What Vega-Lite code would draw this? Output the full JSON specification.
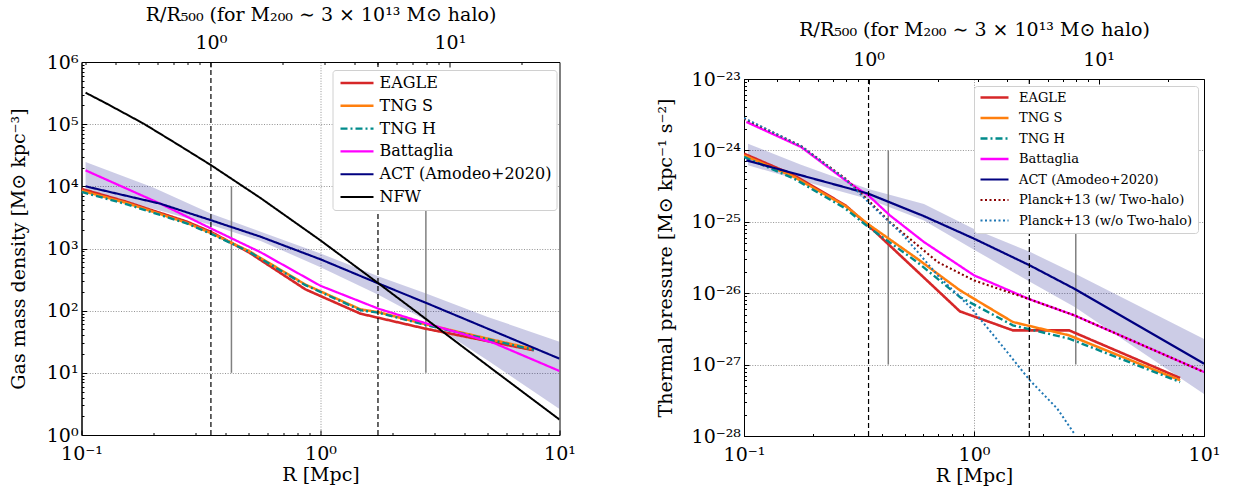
{
"$schema": "https://vega.github.io/schema/vega-lite/v6.json",
"padding": {"left": 8.5, "top": 5, "right": 0, "bottom": 0},
"config": {
  "font": "DejaVu Serif",
  "view": {"stroke": "black", "strokeWidth": 1},
  "axis": {"labelFont": "DejaVu Serif", "titleFont": "DejaVu Serif", "labelFontSize": 19, "titleFontSize": 19, "titleFontWeight": "normal", "labelColor": "black", "titleColor": "black", "domainColor": "black", "tickColor": "black", "gridColor": "#777777", "gridDash": [1, 1.6], "gridWidth": 0.8, "labelOverlap": false, "labelFlush": false},
  "legend": {"fillColor": "white", "strokeColor": "#d0d0d0", "cornerRadius": 3, "labelFont": "DejaVu Serif", "labelColor": "black", "symbolStrokeWidth": 2.5, "labelLimit": 0}
},
"datasets": {
  "leftLines": [
    {"series": "EAGLE", "R": 0.1, "v": 9120}, {"series": "EAGLE", "R": 0.155, "v": 5600}, {"series": "EAGLE", "R": 0.277, "v": 2690}, {"series": "EAGLE", "R": 0.349, "v": 1840}, {"series": "EAGLE", "R": 0.501, "v": 870}, {"series": "EAGLE", "R": 0.865, "v": 220}, {"series": "EAGLE", "R": 1.469, "v": 89.5}, {"series": "EAGLE", "R": 2.75, "v": 51.3}, {"series": "EAGLE", "R": 7.82, "v": 23},
    {"series": "TNG S", "R": 0.1, "v": 8510}, {"series": "TNG S", "R": 0.155, "v": 5370}, {"series": "TNG S", "R": 0.277, "v": 2570}, {"series": "TNG S", "R": 0.349, "v": 1760}, {"series": "TNG S", "R": 0.501, "v": 912}, {"series": "TNG S", "R": 0.865, "v": 263}, {"series": "TNG S", "R": 1.469, "v": 105}, {"series": "TNG S", "R": 1.754, "v": 94.4}, {"series": "TNG S", "R": 2.75, "v": 60.3}, {"series": "TNG S", "R": 7.82, "v": 24},
    {"series": "TNG H", "R": 0.1, "v": 8130}, {"series": "TNG H", "R": 0.155, "v": 5130}, {"series": "TNG H", "R": 0.277, "v": 2510}, {"series": "TNG H", "R": 0.349, "v": 1720}, {"series": "TNG H", "R": 0.501, "v": 891}, {"series": "TNG H", "R": 0.865, "v": 257}, {"series": "TNG H", "R": 1.469, "v": 102}, {"series": "TNG H", "R": 1.754, "v": 92.3}, {"series": "TNG H", "R": 2.75, "v": 58.9}, {"series": "TNG H", "R": 7.82, "v": 23.4},
    {"series": "Battaglia", "R": 0.104, "v": 18070}, {"series": "Battaglia", "R": 0.214, "v": 5250}, {"series": "Battaglia", "R": 0.349, "v": 2090}, {"series": "Battaglia", "R": 0.561, "v": 871}, {"series": "Battaglia", "R": 1.0, "v": 251}, {"series": "Battaglia", "R": 1.754, "v": 107}, {"series": "Battaglia", "R": 2.75, "v": 63}, {"series": "Battaglia", "R": 5.31, "v": 30.2}, {"series": "Battaglia", "R": 10, "v": 10.7},
    {"series": "ACT (Amodeo+2020)", "R": 0.104, "v": 10000}, {"series": "ACT (Amodeo+2020)", "R": 0.214, "v": 5250}, {"series": "ACT (Amodeo+2020)", "R": 0.349, "v": 2840}, {"series": "ACT (Amodeo+2020)", "R": 0.561, "v": 1549}, {"series": "ACT (Amodeo+2020)", "R": 1.0, "v": 670}, {"series": "ACT (Amodeo+2020)", "R": 1.754, "v": 272}, {"series": "ACT (Amodeo+2020)", "R": 2.75, "v": 134.6}, {"series": "ACT (Amodeo+2020)", "R": 10, "v": 16.9},
    {"series": "NFW", "R": 0.104, "v": 321000}, {"series": "NFW", "R": 0.126, "v": 219000}, {"series": "NFW", "R": 0.182, "v": 101900}, {"series": "NFW", "R": 0.251, "v": 47900}, {"series": "NFW", "R": 0.349, "v": 21800}, {"series": "NFW", "R": 0.562, "v": 6457}, {"series": "NFW", "R": 1.0, "v": 1349}, {"series": "NFW", "R": 1.754, "v": 272}, {"series": "NFW", "R": 2.75, "v": 74.3}, {"series": "NFW", "R": 5.31, "v": 11.0}, {"series": "NFW", "R": 10, "v": 1.77}
  ],
  "leftBand": [
    {"R": 0.104, "lo": 8318, "hi": 24547}, {"R": 0.1995, "lo": 4365, "hi": 9550}, {"R": 0.349, "lo": 2399, "hi": 3631}, {"R": 0.562, "lo": 1318, "hi": 1862}, {"R": 1.0, "lo": 501, "hi": 832}, {"R": 1.754, "lo": 178, "hi": 355}, {"R": 2.75, "lo": 70.8, "hi": 190.5}, {"R": 5.01, "lo": 15.8, "hi": 79.4}, {"R": 10, "lo": 2.63, "hi": 31.6}
  ],
  "leftGray": [{"R": 0.424, "a": 10, "b": 10000}, {"R": 2.76, "a": 10, "b": 10000}],
  "rightGray": [{"R": 0.424, "a": 1e-27, "b": 1e-24}, {"R": 2.77, "a": 1e-27, "b": 1e-24}],
  "dashed": [{"ratio": 1}, {"ratio": 5}],
  "rightLines": [
    {"series": "EAGLE", "R": 0.1, "v": 9.0e-25}, {"series": "EAGLE", "R": 0.1652, "v": 4.48e-25}, {"series": "EAGLE", "R": 0.2761, "v": 1.70e-25}, {"series": "EAGLE", "R": 0.347, "v": 8.91e-26}, {"series": "EAGLE", "R": 0.868, "v": 5.57e-27}, {"series": "EAGLE", "R": 1.475, "v": 3.02e-27}, {"series": "EAGLE", "R": 2.591, "v": 3.02e-27}, {"series": "EAGLE", "R": 7.87, "v": 6.49e-28},
    {"series": "TNG S", "R": 0.1, "v": 8.53e-25}, {"series": "TNG S", "R": 0.1652, "v": 4.25e-25}, {"series": "TNG S", "R": 0.2761, "v": 1.66e-25}, {"series": "TNG S", "R": 0.347, "v": 9.23e-26}, {"series": "TNG S", "R": 0.566, "v": 3.05e-26}, {"series": "TNG S", "R": 0.868, "v": 1.10e-26}, {"series": "TNG S", "R": 1.475, "v": 3.95e-27}, {"series": "TNG S", "R": 2.591, "v": 2.57e-27}, {"series": "TNG S", "R": 7.87, "v": 6.03e-28},
    {"series": "TNG H", "R": 0.1, "v": 8.09e-25}, {"series": "TNG H", "R": 0.1652, "v": 4.02e-25}, {"series": "TNG H", "R": 0.2761, "v": 1.53e-25}, {"series": "TNG H", "R": 0.347, "v": 8.45e-26}, {"series": "TNG H", "R": 0.566, "v": 2.73e-26}, {"series": "TNG H", "R": 0.868, "v": 8.85e-27}, {"series": "TNG H", "R": 1.475, "v": 3.55e-27}, {"series": "TNG H", "R": 2.591, "v": 2.31e-27}, {"series": "TNG H", "R": 7.87, "v": 5.70e-28},
    {"series": "Battaglia", "R": 0.1024, "v": 2.50e-24}, {"series": "Battaglia", "R": 0.177, "v": 1.117e-24}, {"series": "Battaglia", "R": 0.2761, "v": 3.81e-25}, {"series": "Battaglia", "R": 0.347, "v": 2.35e-25}, {"series": "Battaglia", "R": 0.4305, "v": 1.233e-25}, {"series": "Battaglia", "R": 0.606, "v": 5.21e-26}, {"series": "Battaglia", "R": 1.0, "v": 1.78e-26}, {"series": "Battaglia", "R": 1.749, "v": 8.20e-27}, {"series": "Battaglia", "R": 2.729, "v": 4.90e-27}, {"series": "Battaglia", "R": 10, "v": 7.87e-28},
    {"series": "ACT (Amodeo+2020)", "R": 0.1024, "v": 7.26e-25}, {"series": "ACT (Amodeo+2020)", "R": 0.177, "v": 4.48e-25}, {"series": "ACT (Amodeo+2020)", "R": 0.347, "v": 2.48e-25}, {"series": "ACT (Amodeo+2020)", "R": 0.606, "v": 1.20e-25}, {"series": "ACT (Amodeo+2020)", "R": 1.0, "v": 5.81e-26}, {"series": "ACT (Amodeo+2020)", "R": 1.749, "v": 2.45e-26}, {"series": "ACT (Amodeo+2020)", "R": 2.729, "v": 1.156e-26}, {"series": "ACT (Amodeo+2020)", "R": 10, "v": 1.03e-27},
    {"series": "Planck+13 (w/ Two-halo)", "R": 0.1, "v": 2.78e-24}, {"series": "Planck+13 (w/ Two-halo)", "R": 0.177, "v": 1.153e-24}, {"series": "Planck+13 (w/ Two-halo)", "R": 0.2761, "v": 4.02e-25}, {"series": "Planck+13 (w/ Two-halo)", "R": 0.347, "v": 2.0e-25}, {"series": "Planck+13 (w/ Two-halo)", "R": 0.4305, "v": 9.93e-26}, {"series": "Planck+13 (w/ Two-halo)", "R": 0.695, "v": 2.73e-26}, {"series": "Planck+13 (w/ Two-halo)", "R": 1.0, "v": 1.51e-26}, {"series": "Planck+13 (w/ Two-halo)", "R": 1.749, "v": 8.20e-27}, {"series": "Planck+13 (w/ Two-halo)", "R": 2.729, "v": 4.9e-27}, {"series": "Planck+13 (w/ Two-halo)", "R": 10, "v": 7.87e-28},
    {"series": "Planck+13 (w/o Two-halo)", "R": 0.1, "v": 2.84e-24}, {"series": "Planck+13 (w/o Two-halo)", "R": 0.177, "v": 1.153e-24}, {"series": "Planck+13 (w/o Two-halo)", "R": 0.2761, "v": 3.94e-25}, {"series": "Planck+13 (w/o Two-halo)", "R": 0.347, "v": 1.89e-25}, {"series": "Planck+13 (w/o Two-halo)", "R": 0.4934, "v": 6.46e-26}, {"series": "Planck+13 (w/o Two-halo)", "R": 0.695, "v": 1.78e-26}, {"series": "Planck+13 (w/o Two-halo)", "R": 0.978, "v": 6.07e-27}, {"series": "Planck+13 (w/o Two-halo)", "R": 1.285, "v": 2.07e-27}, {"series": "Planck+13 (w/o Two-halo)", "R": 1.749, "v": 6.03e-28}, {"series": "Planck+13 (w/o Two-halo)", "R": 2.301, "v": 2.42e-28}, {"series": "Planck+13 (w/o Two-halo)", "R": 2.729, "v": 1.08e-28}
  ],
  "rightBand": [
    {"R": 0.1041, "lo": 6.17e-25, "hi": 1.242e-24}, {"R": 0.177, "lo": 3.80e-25, "hi": 6.31e-25}, {"R": 0.347, "lo": 2.09e-25, "hi": 2.88e-25}, {"R": 0.606, "lo": 1.047e-25, "hi": 1.78e-25}, {"R": 1.0, "lo": 4.07e-26, "hi": 7.94e-26}, {"R": 1.749, "lo": 1.445e-26, "hi": 3.80e-26}, {"R": 2.729, "lo": 6.46e-27, "hi": 1.905e-26}, {"R": 10, "lo": 3.89e-28, "hi": 2.29e-27}
  ]
},
"hconcat": [
  {
    "width": 478, "height": 373,
    "layer": [
      {
        "layer": [
          {"data": {"name": "leftBand"}, "mark": {"type": "area", "color": "#000080", "opacity": 0.2, "clip": true},
           "encoding": {"x": {"field": "R", "type": "quantitative"}, "y": {"field": "lo", "type": "quantitative"}, "y2": {"field": "hi"}}},
          {"data": {"name": "leftGray"}, "mark": {"type": "rule", "color": "#808080", "strokeWidth": 1.5},
           "encoding": {"x": {"field": "R", "type": "quantitative"}, "y": {"field": "a", "type": "quantitative"}, "y2": {"field": "b"}}},
          {"data": {"name": "leftLines"}, "mark": {"type": "line", "clip": true},
           "encoding": {
             "x": {"field": "R", "type": "quantitative"},
             "y": {"field": "v", "type": "quantitative"},
             "color": {"field": "series", "type": "nominal", "scale": {"domain": ["EAGLE", "TNG S", "TNG H", "Battaglia", "ACT (Amodeo+2020)", "NFW"], "range": ["#d62728", "#ff7f0e", "#008b8b", "#ff00ff", "#000080", "#000000"]},
               "legend": {"title": null, "orient": "none", "legendX": 251, "legendY": 8, "padding": 5, "labelFontSize": 16, "symbolType": "M-1,0H5.6", "symbolSize": 100, "labelOffset": 26, "rowPadding": 6.8}},
             "strokeDash": {"field": "series", "type": "nominal", "scale": {"domain": ["EAGLE", "TNG S", "TNG H", "Battaglia", "ACT (Amodeo+2020)", "NFW"], "range": [[1, 0], [1, 0], [7, 3, 2, 3], [1, 0], [1, 0], [1, 0]]},
               "legend": {"title": null, "orient": "none", "legendX": 251, "legendY": 8, "padding": 5, "labelFontSize": 16, "symbolType": "M-1,0H5.6", "symbolSize": 100, "labelOffset": 26, "rowPadding": 6.8}},
             "strokeWidth": {"field": "series", "type": "nominal", "scale": {"domain": ["EAGLE", "TNG S", "TNG H", "Battaglia", "ACT (Amodeo+2020)", "NFW"], "range": [2.6, 2, 2.2, 2.2, 2.4, 1.4]}, "legend": null}
           }}
        ],
        "encoding": {
          "x": {"field": "R", "type": "quantitative", "scale": {"type": "log", "domain": [0.1, 10], "nice": false},
            "axis": {"title": ["R [Mpc]", ""], "titleLineHeight": 18, "values": [0.1, 0.2, 0.3, 0.4, 0.5, 0.6, 0.7, 0.8, 0.9, 1, 2, 3, 4, 5, 6, 7, 8, 9, 10],
              "labelExpr": "datum.value==0.1?'10⁻¹':datum.value==1?'10⁰':datum.value==10?'10¹':''",
              "tickSize": {"condition": {"test": "datum.value==0.1||datum.value==1||datum.value==10", "value": -5}, "value": -2.5},
              "labelPadding": 14, "titlePadding": 0,
              "grid": true, "gridOpacity": {"condition": {"test": "datum.value==1", "value": 1}, "value": 0}}},
          "y": {"field": "v", "type": "quantitative", "scale": {"type": "log", "domain": [1, 1000000], "nice": false},
            "axis": {"title": "Gas mass density [M⊙ kpc⁻³]", "values": [1, 2, 3, 4, 5, 6, 7, 8, 9, 10, 20, 30, 40, 50, 60, 70, 80, 90, 100, 200, 300, 400, 500, 600, 700, 800, 900, 1000, 2000, 3000, 4000, 5000, 6000, 7000, 8000, 9000, 10000, 20000, 30000, 40000, 50000, 60000, 70000, 80000, 90000, 100000, 200000, 300000, 400000, 500000, 600000, 700000, 800000, 900000, 1000000],
              "labelExpr": "['10⁰','10¹','10²','10³','10⁴','10⁵','10⁶'][indexof([1,10,100,1000,10000,100000,1000000],datum.value)] || ''",
              "tickSize": {"condition": {"test": "indexof([1,10,100,1000,10000,100000,1000000],datum.value)>=0", "value": -5}, "value": -2.5},
              "labelPadding": 8.5, "titlePadding": 18,
              "grid": true, "gridOpacity": {"condition": {"test": "indexof([10,100,1000,10000,100000],datum.value)>=0", "value": 1}, "value": 0}}}
        }
      },
      {
        "data": {"name": "dashed"},
        "mark": {"type": "rule", "color": "black", "strokeDash": [5, 3], "strokeWidth": 1.2},
        "encoding": {
          "x": {"field": "ratio", "type": "quantitative", "scale": {"type": "log", "domain": [0.2874, 28.74], "nice": false},
            "axis": {"orient": "top", "title": "R/R₅₀₀ (for M₂₀₀ ∼ 3 × 10¹³ M⊙ halo)", "values": [0.3, 0.4, 0.5, 0.6, 0.7, 0.8, 0.9, 1, 2, 3, 4, 5, 6, 7, 8, 9, 10, 20],
              "labelExpr": "datum.value==1?'10⁰':datum.value==10?'10¹':''",
              "tickSize": {"condition": {"test": "datum.value==1||datum.value==10", "value": -5}, "value": -2.5},
              "labelPadding": 15, "titlePadding": 6, "grid": false}}
        }
      }
    ],
    "resolve": {"scale": {"x": "independent"}, "axis": {"x": "independent"}}
  },
  {
    "width": 460, "height": 357,
    "layer": [
      {
        "layer": [
          {"data": {"name": "rightBand"}, "mark": {"type": "area", "color": "#000080", "opacity": 0.2, "clip": true},
           "encoding": {"x": {"field": "R", "type": "quantitative"}, "y": {"field": "lo", "type": "quantitative"}, "y2": {"field": "hi"}}},
          {"data": {"name": "rightGray"}, "mark": {"type": "rule", "color": "#808080", "strokeWidth": 1.5},
           "encoding": {"x": {"field": "R", "type": "quantitative"}, "y": {"field": "a", "type": "quantitative"}, "y2": {"field": "b"}}},
          {"data": {"name": "rightLines"}, "mark": {"type": "line", "clip": true},
           "encoding": {
             "x": {"field": "R", "type": "quantitative"},
             "y": {"field": "v", "type": "quantitative"},
             "color": {"field": "series", "type": "nominal", "scale": {"domain": ["EAGLE", "TNG S", "TNG H", "Battaglia", "ACT (Amodeo+2020)", "Planck+13 (w/ Two-halo)", "Planck+13 (w/o Two-halo)"], "range": ["#d62728", "#ff7f0e", "#008b8b", "#ff00ff", "#000080", "#8b0000", "#1f77b4"]},
               "legend": {"title": null, "orient": "none", "legendX": 230, "legendY": 7, "padding": 5, "labelFontSize": 13, "symbolType": "M-1,0H4.6", "symbolSize": 100, "labelOffset": 27, "rowPadding": 6.5}},
             "strokeDash": {"field": "series", "type": "nominal", "scale": {"domain": ["EAGLE", "TNG S", "TNG H", "Battaglia", "ACT (Amodeo+2020)", "Planck+13 (w/ Two-halo)", "Planck+13 (w/o Two-halo)"], "range": [[1, 0], [1, 0], [7, 3, 2, 3], [1, 0], [1, 0], [2, 2.5], [2, 2.5]]},
               "legend": {"title": null, "orient": "none", "legendX": 230, "legendY": 7, "padding": 5, "labelFontSize": 13, "symbolType": "M-1,0H4.6", "symbolSize": 100, "labelOffset": 27, "rowPadding": 6.5}},
             "strokeWidth": {"field": "series", "type": "nominal", "scale": {"domain": ["EAGLE", "TNG S", "TNG H", "Battaglia", "ACT (Amodeo+2020)", "Planck+13 (w/ Two-halo)", "Planck+13 (w/o Two-halo)"], "range": [2.6, 2, 2.2, 2.2, 2.4, 2.2, 2.2]}, "legend": null}
           }}
        ],
        "encoding": {
          "x": {"field": "R", "type": "quantitative", "scale": {"type": "log", "domain": [0.1, 10], "nice": false},
            "axis": {"title": "R [Mpc]", "values": [0.1, 0.2, 0.3, 0.4, 0.5, 0.6, 0.7, 0.8, 0.9, 1, 2, 3, 4, 5, 6, 7, 8, 9, 10],
              "labelExpr": "datum.value==0.1?'10⁻¹':datum.value==1?'10⁰':datum.value==10?'10¹':''",
              "tickSize": {"condition": {"test": "datum.value==0.1||datum.value==1||datum.value==10", "value": -5}, "value": -2.5},
              "labelPadding": 14, "titlePadding": 0,
              "grid": true, "gridOpacity": {"condition": {"test": "datum.value==1", "value": 1}, "value": 0}}},
          "y": {"field": "v", "type": "quantitative", "scale": {"type": "log", "domain": [1e-28, 1e-23], "nice": false},
            "axis": {"title": "Thermal pressure [M⊙ kpc⁻¹ s⁻²]", "values": [1e-28, 2e-28, 3e-28, 4e-28, 5e-28, 6e-28, 7e-28, 8e-28, 9e-28, 1e-27, 2e-27, 3e-27, 4e-27, 5e-27, 6e-27, 7e-27, 8e-27, 9e-27, 1e-26, 2e-26, 3e-26, 4e-26, 5e-26, 6e-26, 7e-26, 8e-26, 9e-26, 1e-25, 2e-25, 3e-25, 4e-25, 5e-25, 6e-25, 7e-25, 8e-25, 9e-25, 1e-24, 2e-24, 3e-24, 4e-24, 5e-24, 6e-24, 7e-24, 8e-24, 9e-24, 1e-23],
              "labelExpr": "['10⁻²⁸','10⁻²⁷','10⁻²⁶','10⁻²⁵','10⁻²⁴','10⁻²³'][indexof([1e-28,1e-27,1e-26,1e-25,1e-24,1e-23],datum.value)] || ''",
              "tickSize": {"condition": {"test": "indexof([1e-28,1e-27,1e-26,1e-25,1e-24,1e-23],datum.value)>=0", "value": -5}, "value": -2.5},
              "labelPadding": 8.5, "titlePadding": 15.5,
              "grid": true, "gridOpacity": {"condition": {"test": "indexof([1e-27,1e-26,1e-25,1e-24],datum.value)>=0", "value": 1}, "value": 0}}}
        }
      },
      {
        "data": {"name": "dashed"},
        "mark": {"type": "rule", "color": "black", "strokeDash": [5, 3], "strokeWidth": 1.2},
        "encoding": {
          "x": {"field": "ratio", "type": "quantitative", "scale": {"type": "log", "domain": [0.2874, 28.74], "nice": false},
            "axis": {"orient": "top", "title": "R/R₅₀₀ (for M₂₀₀ ∼ 3 × 10¹³ M⊙ halo)", "values": [0.3, 0.4, 0.5, 0.6, 0.7, 0.8, 0.9, 1, 2, 3, 4, 5, 6, 7, 8, 9, 10, 20],
              "labelExpr": "datum.value==1?'10⁰':datum.value==10?'10¹':''",
              "tickSize": {"condition": {"test": "datum.value==1||datum.value==10", "value": -5}, "value": -2.5},
              "labelPadding": 15, "titlePadding": 8, "grid": false}}
        }
      }
    ],
    "resolve": {"scale": {"x": "independent"}, "axis": {"x": "independent"}}
  }
],
"spacing": 79.5,
"center": true,
"resolve": {"scale": {"color": "independent", "strokeDash": "independent", "strokeWidth": "independent"}}
}
